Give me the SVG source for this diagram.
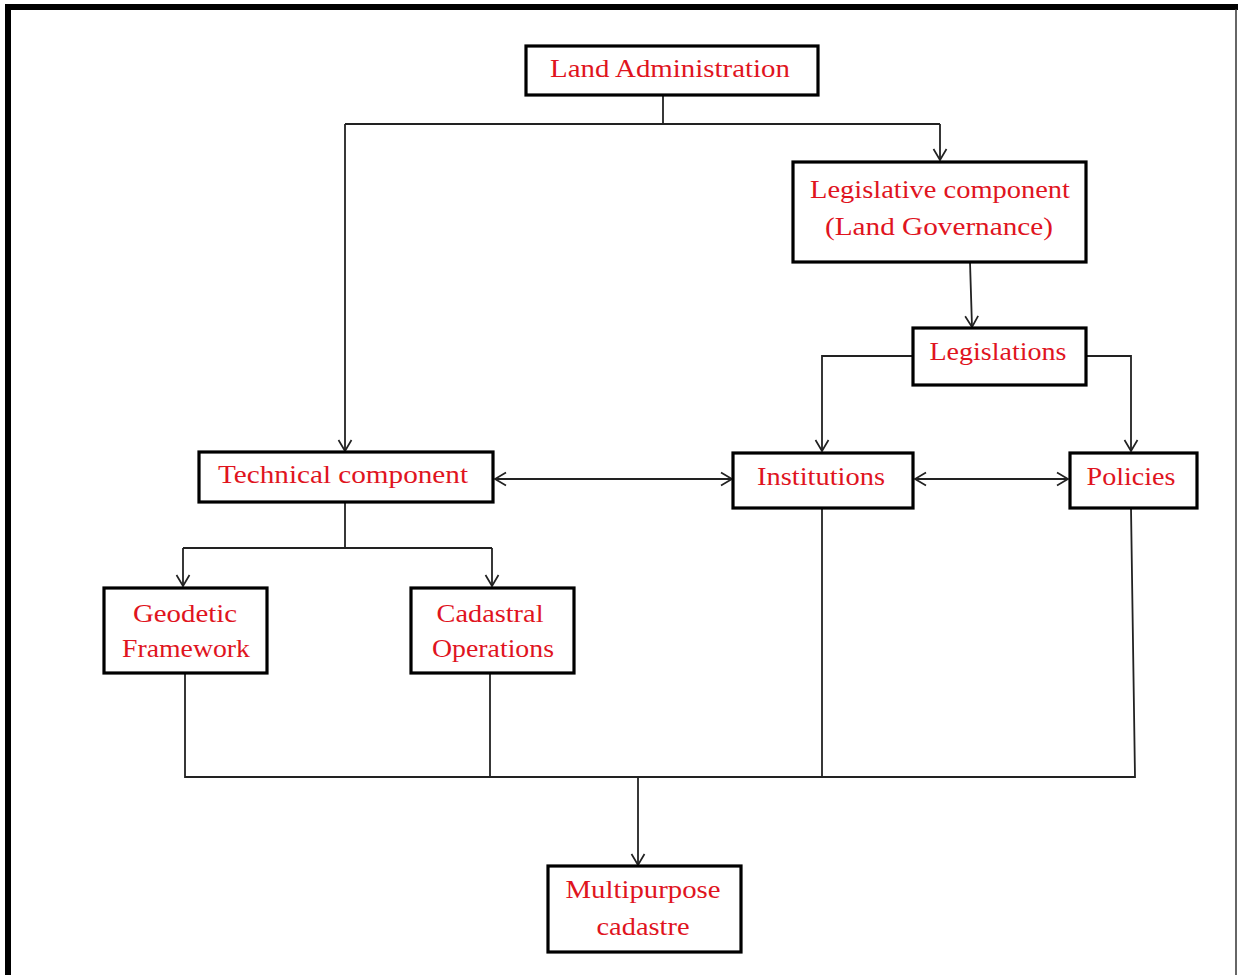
<svg xmlns="http://www.w3.org/2000/svg" width="1238" height="975" viewBox="0 0 1238 975">
<defs>
<marker id="arr" markerWidth="14" markerHeight="16" refX="12" refY="8" orient="auto-start-reverse" markerUnits="userSpaceOnUse">
<path d="M1,1.5 L12,8 L1,14.5" fill="none" stroke="#222" stroke-width="1.7"/>
</marker>
<style>
.box{fill:#fff;stroke:#000;stroke-width:3.2}
.t{font-family:"Liberation Serif","Times New Roman",serif;font-size:26px;fill:#e0141e;text-anchor:middle}
.c{fill:none;stroke:#222;stroke-width:1.8}
</style>
</defs>
<rect width="1238" height="975" fill="#fff"/>
<path d="M8,975 L8,7 L1238,7" fill="none" stroke="#000" stroke-width="6"/>
<line x1="1236" y1="9" x2="1236" y2="975" stroke="#333" stroke-width="1.5"/>

<g id="connectors">
<path class="c" d="M663,95 V124"/>
<path class="c" d="M345,124 H940"/>
<path class="c" d="M345,124 V451" marker-end="url(#arr)"/>
<path class="c" d="M940,124 V160" marker-end="url(#arr)"/>
<path class="c" d="M970,262 L972,327" marker-end="url(#arr)"/>
<path class="c" d="M913,356 H822 V451" marker-end="url(#arr)"/>
<path class="c" d="M1086,356 H1131 V451" marker-end="url(#arr)"/>
<path class="c" d="M495,479 H732" marker-start="url(#arr)" marker-end="url(#arr)"/>
<path class="c" d="M915,479 H1068" marker-start="url(#arr)" marker-end="url(#arr)"/>
<path class="c" d="M345,502 V548"/>
<path class="c" d="M183,548 H492"/>
<path class="c" d="M183,548 V586" marker-end="url(#arr)"/>
<path class="c" d="M492,548 V586" marker-end="url(#arr)"/>
<path class="c" d="M185,673 V777 H1135 L1131,508"/>
<path class="c" d="M490,673 V777"/>
<path class="c" d="M822,508 V777"/>
<path class="c" d="M638,777 V865" marker-end="url(#arr)"/>
</g>

<g id="land-administration">
<rect class="box" x="526" y="46" width="292" height="49"/>
<text class="t" x="670" y="77" textLength="240" lengthAdjust="spacingAndGlyphs">Land Administration</text>
</g>
<g id="legislative-component">
<rect class="box" x="793" y="162" width="293" height="100"/>
<text class="t" x="940" y="198" textLength="260" lengthAdjust="spacingAndGlyphs">Legislative component</text>
<text class="t" x="939" y="235" textLength="228" lengthAdjust="spacingAndGlyphs">(Land Governance)</text>
</g>
<g id="legislations">
<rect class="box" x="913" y="328" width="173" height="57"/>
<text class="t" x="998" y="360" textLength="137" lengthAdjust="spacingAndGlyphs">Legislations</text>
</g>
<g id="technical-component">
<rect class="box" x="199" y="452" width="294" height="50"/>
<text class="t" x="343" y="483" textLength="250" lengthAdjust="spacingAndGlyphs">Technical component</text>
</g>
<g id="institutions">
<rect class="box" x="733" y="453" width="180" height="55"/>
<text class="t" x="821" y="485" textLength="128" lengthAdjust="spacingAndGlyphs">Institutions</text>
</g>
<g id="policies">
<rect class="box" x="1070" y="453" width="127" height="55"/>
<text class="t" x="1131" y="485" textLength="89" lengthAdjust="spacingAndGlyphs">Policies</text>
</g>
<g id="geodetic-framework">
<rect class="box" x="104" y="588" width="163" height="85"/>
<text class="t" x="185" y="622" textLength="104" lengthAdjust="spacingAndGlyphs">Geodetic</text>
<text class="t" x="186" y="657" textLength="128" lengthAdjust="spacingAndGlyphs">Framework</text>
</g>
<g id="cadastral-operations">
<rect class="box" x="411" y="588" width="163" height="85"/>
<text class="t" x="490" y="622" textLength="107" lengthAdjust="spacingAndGlyphs">Cadastral</text>
<text class="t" x="493" y="657" textLength="122" lengthAdjust="spacingAndGlyphs">Operations</text>
</g>
<g id="multipurpose-cadastre">
<rect class="box" x="548" y="866" width="193" height="86"/>
<text class="t" x="643" y="898" textLength="155" lengthAdjust="spacingAndGlyphs">Multipurpose</text>
<text class="t" x="643" y="935" textLength="93" lengthAdjust="spacingAndGlyphs">cadastre</text>
</g>
</svg>
